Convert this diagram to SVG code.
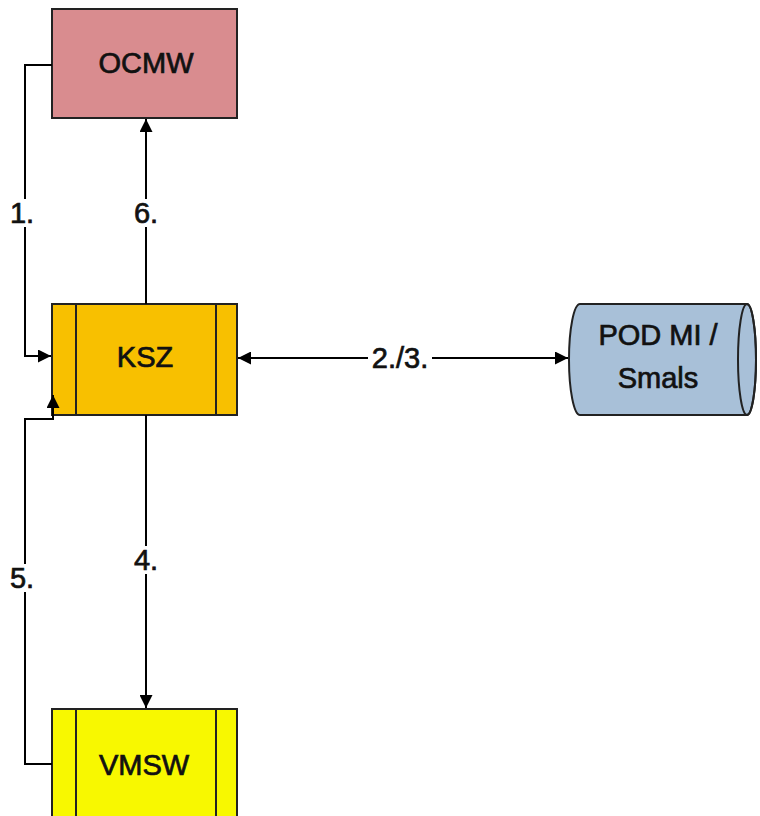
<svg xmlns="http://www.w3.org/2000/svg" width="760" height="816" viewBox="0 0 760 816">
<style>
.box{stroke:#222;stroke-width:2}
.t{font-family:"Liberation Sans",Arial,sans-serif;font-size:29px;fill:#111;stroke:#111;stroke-width:0.7;text-anchor:middle;dominant-baseline:central}
.c{fill:none;stroke:#000;stroke-width:2}
.bg{fill:#fff}
</style>
<defs>
<marker id="ah" viewBox="0 0 10 10" refX="10" refY="5" markerWidth="6.5" markerHeight="6.5" orient="auto-start-reverse" markerUnits="strokeWidth">
<path d="M0,0 L10,5 L0,10 z" fill="#000"/>
</marker>
</defs>
<rect width="760" height="816" fill="#fff"/>
<g id="ocmw">
<rect class="box" x="52" y="9" width="185" height="109" fill="#D98C8F"/>
<text class="t" x="146" y="63">OCMW</text>
</g>
<g id="ksz">
<rect class="box" x="52" y="304" width="185" height="111" fill="#F8C000"/>
<line class="box" x1="76" y1="304" x2="76" y2="415"/>
<line class="box" x1="216" y1="304" x2="216" y2="415"/>
<text class="t" x="145" y="357">KSZ</text>
</g>
<g id="pod">
<path class="box" d="M580,304 L747,304 A9,55.5 0 0 1 747,415 L580,415 A11,55.5 0 0 1 580,304 z" fill="#A8C0D8"/>
<ellipse class="box" cx="747" cy="359.5" rx="9" ry="55.5" fill="none"/>
<text class="t" x="658" y="335">POD MI /</text>
<text class="t" x="658" y="378">Smals</text>
</g>
<g id="vmsw">
<rect class="box" x="52" y="709" width="185" height="120" fill="#F8F800"/>
<line class="box" x1="76" y1="709" x2="76" y2="829"/>
<line class="box" x1="216" y1="709" x2="216" y2="829"/>
<text class="t" x="144" y="765">VMSW</text>
</g>
<g id="connectors">
<polyline class="c" points="52,65 25,65 25,356 51,356" marker-end="url(#ah)"/>
<line class="c" x1="146" y1="304" x2="146" y2="119" marker-end="url(#ah)"/>
<line class="c" x1="238" y1="358" x2="568" y2="358" marker-start="url(#ah)" marker-end="url(#ah)"/>
<line class="c" x1="146" y1="415" x2="146" y2="708" marker-end="url(#ah)"/>
<polyline class="c" points="52,764 25,764 25,419 53,419 53,395" marker-end="url(#ah)"/>
<rect class="bg" x="368" y="343" width="64" height="30"/>
<text class="t" x="400" y="358">2./3.</text>
<rect class="bg" x="8" y="199" width="30" height="28"/>
<text class="t" x="22" y="213">1.</text>
<rect class="bg" x="131" y="199" width="30" height="28"/>
<text class="t" x="146" y="213">6.</text>
<rect class="bg" x="131" y="546" width="30" height="28"/>
<text class="t" x="146" y="560">4.</text>
<rect class="bg" x="8" y="564" width="30" height="28"/>
<text class="t" x="22" y="578">5.</text>
</g>
</svg>
